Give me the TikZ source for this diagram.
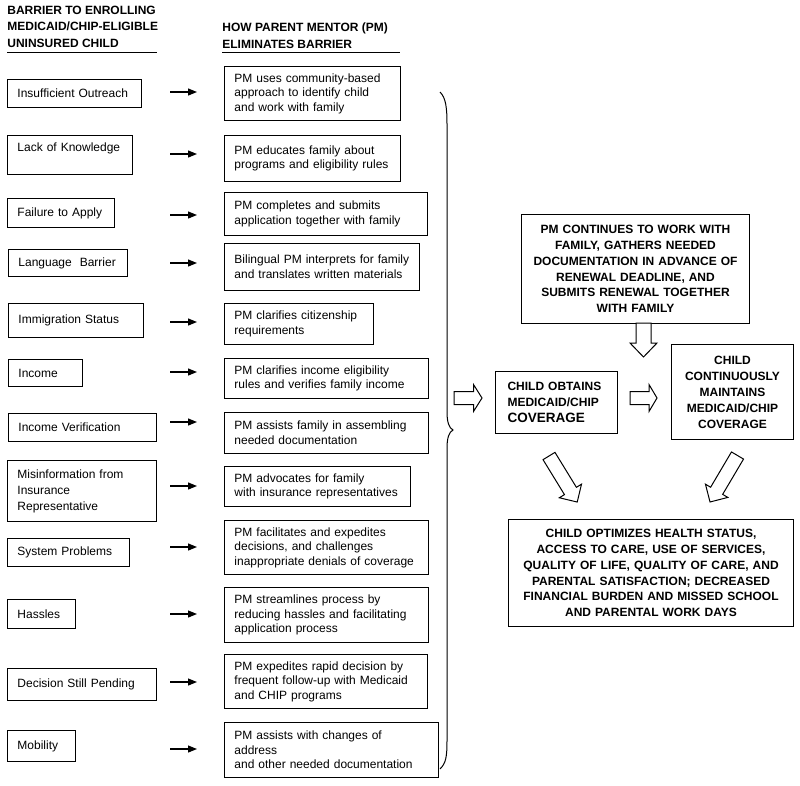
\documentclass[tikz,border=0pt]{standalone}
\usepackage{fontspec}
\setmainfont{Liberation Sans}
\usetikzlibrary{arrows.meta}

\tikzset{every picture/.style={line width=0.75pt}}
\tikzset{
  bar/.style={draw, line width=0.9pt, anchor=north west, align=left, inner xsep=10pt, inner ysep=0pt, font=\fontsize{12}{16}\selectfont},
  pm/.style={draw, line width=0.9pt, anchor=north west, align=left, inner xsep=10pt, inner ysep=0pt, font=\fontsize{12}{14.5}\selectfont},
  caps/.style={draw, line width=1pt, anchor=north west, align=center, inner xsep=8pt, inner ysep=0pt, font=\bfseries\fontsize{12}{15.8}\selectfont},
  headtext/.style={anchor=north west, align=left, inner sep=0pt, font=\bfseries\fontsize{12}{16.5}\selectfont},
  sarrow/.style={line width=1.2pt, -{Triangle[length=9pt,width=7pt]}},
  blk/.style={line width=1pt, fill=white},
}

\begin{document}
\begin{tikzpicture}[x=1pt,y=1pt,yscale=-1,xscale=1]
\useasboundingbox (0,0) rectangle (800,785);

% Headers
\node [headtext] (hbar) at (7,5.7) {BARRIER TO ENROLLING\\MEDICAID/CHIP-ELIGIBLE\\UNINSURED CHILD};
\node [headtext] (hpm) at (222,22.7) {HOW PARENT MENTOR (PM)\\ELIMINATES BARRIER};
\draw [line width=1pt] (7,52) -- (157,52);
\draw [line width=1pt] (222,52) -- (400,52);

% Barrier boxes
\node [bar, text width=114pt, minimum height=28pt] (bar1) at (7,79) {Insufficient Outreach};
\node [bar, text width=105pt, minimum height=39pt] (bar2) at (7,135) {Lack of Knowledge\\\mbox{}};
\node [bar, text width=87pt, minimum height=29pt] (bar3) at (7,198) {Failure to Apply};
\node [bar, text width=99pt, minimum height=27pt] (bar4) at (8,249) {Language\ \ Barrier};
\node [bar, text width=115pt, minimum height=34pt] (bar5) at (8,303) {Immigration Status};
\node [bar, text width=54pt, minimum height=27pt] (bar6) at (8,359) {Income};
\node [bar, text width=128pt, minimum height=28pt] (bar7) at (8,413) {Income Verification};
\node [bar, text width=129pt, minimum height=61pt] (bar8) at (7,460) {Misinformation from\\Insurance\\Representative};
\node [bar, text width=102pt, minimum height=28pt] (bar9) at (7,538) {System Problems};
\node [bar, text width=48pt, minimum height=29pt] (bar10) at (7,599) {Hassles};
\node [bar, text width=129pt, minimum height=32pt] (bar11) at (7,668) {Decision Still Pending};
\node [bar, text width=48pt, minimum height=31pt] (bar12) at (7,730) {Mobility};

% Parent mentor boxes
\node [pm, text width=156pt, minimum height=54pt] (pm1) at (224,66) {PM uses community-based\\approach to identify child\\and work with family};
\node [pm, text width=156pt, minimum height=46pt] (pm2) at (224,135) {PM educates family about\\programs and eligibility rules};
\node [pm, text width=183pt, minimum height=43pt] (pm3) at (224,192) {PM completes and submits\\application together with family};
\node [pm, text width=175pt, minimum height=47pt] (pm4) at (224,243) {Bilingual PM interprets for family\\and translates written materials};
\node [pm, text width=129pt, minimum height=41pt] (pm5) at (224,303) {PM clarifies citizenship\\requirements};
\node [pm, text width=184pt, minimum height=40pt] (pm6) at (224,358) {PM clarifies income eligibility\\rules and verifies family income};
\node [pm, text width=184pt, minimum height=41pt] (pm7) at (224,412) {PM assists family in assembling\\needed documentation};
\node [pm, text width=166pt, minimum height=40pt] (pm8) at (224,466) {PM advocates for family\\with insurance representatives};
\node [pm, text width=184pt, minimum height=54pt] (pm9) at (224,520) {PM facilitates and expedites\\decisions, and challenges\\inappropriate denials of coverage};
\node [pm, text width=184pt, minimum height=55pt] (pm10) at (224,587) {PM streamlines process by\\reducing hassles and facilitating\\application process};
\node [pm, text width=183pt, minimum height=54pt] (pm11) at (224,654) {PM expedites rapid decision by\\frequent follow-up with Medicaid\\and CHIP programs};
\node [pm, text width=194pt, minimum height=55pt] (pm12) at (224,722) {PM assists with changes of\\address\\and other needed documentation};

% Straight Lines
\coordinate (a1) at (170,92);  \coordinate (b1) at (197,92);  \draw [sarrow] (a1) -- (b1);
\coordinate (a2) at (170,154); \coordinate (b2) at (197,154); \draw [sarrow] (a2) -- (b2);
\coordinate (a3) at (170,215); \coordinate (b3) at (197,215); \draw [sarrow] (a3) -- (b3);
\coordinate (a4) at (170,263); \coordinate (b4) at (197,263); \draw [sarrow] (a4) -- (b4);
\coordinate (a5) at (170,322); \coordinate (b5) at (197,322); \draw [sarrow] (a5) -- (b5);
\coordinate (a6) at (170,372); \coordinate (b6) at (197,372); \draw [sarrow] (a6) -- (b6);
\coordinate (a7) at (170,422); \coordinate (b7) at (197,422); \draw [sarrow] (a7) -- (b7);
\coordinate (a8) at (170,486); \coordinate (b8) at (197,486); \draw [sarrow] (a8) -- (b8);
\coordinate (a9) at (170,547); \coordinate (b9) at (197,547); \draw [sarrow] (a9) -- (b9);
\coordinate (a10) at (170,614); \coordinate (b10) at (197,614); \draw [sarrow] (a10) -- (b10);
\coordinate (a11) at (170,682); \coordinate (b11) at (197,682); \draw [sarrow] (a11) -- (b11);
\coordinate (a12) at (170,749); \coordinate (b12) at (197,749); \draw [sarrow] (a12) -- (b12);

%Shape: Brace
\draw [line width=1pt] (440,92) .. controls (446,98) and (447,108) .. (447,125) -- (447,412) .. controls (447,422) and (449,428) .. (453,430) .. controls (449,432) and (447,438) .. (447,448) -- (447,740) .. controls (447,757) and (446,763) .. (440,769);

% Outcome boxes
\node [caps, text width=212pt, minimum height=109pt] (renew) at (521,214) {PM CONTINUES TO WORK WITH\\FAMILY, GATHERS NEEDED\\DOCUMENTATION IN ADVANCE OF\\RENEWAL DEADLINE, AND\\SUBMITS RENEWAL TOGETHER\\WITH FAMILY};
\node [caps, align=left, inner xsep=12pt, text width=98pt, minimum height=62pt] (obtain) at (495,371) {CHILD OBTAINS\\MEDICAID/CHIP\\{\fontsize{13.5}{16}\selectfont COVERAGE}};
\node [caps, text width=106pt, minimum height=95pt, font=\bfseries\fontsize{12}{16}\selectfont] (maintain) at (671,344) {CHILD\\CONTINUOUSLY\\MAINTAINS\\MEDICAID/CHIP\\COVERAGE};
\node [caps, text width=269pt, minimum height=107pt] (optimize) at (508,519) {CHILD OPTIMIZES HEALTH STATUS,\\ACCESS TO CARE, USE OF SERVICES,\\QUALITY OF LIFE, QUALITY OF CARE, AND\\PARENTAL SATISFACTION; DECREASED\\FINANCIAL BURDEN AND MISSED SCHOOL\\AND PARENTAL WORK DAYS};

%Shape: Right Arrow
\draw [blk] (454,391.5) -- (473.5,391.5) -- (473.5,384.5) -- (482,398) -- (473.5,411.5) -- (473.5,404.5) -- (454,404.5) -- cycle;
%Shape: Right Arrow
\draw [blk] (630,391.5) -- (649,391.5) -- (649,384.5) -- (657,398) -- (649,411.5) -- (649,404.5) -- (630,404.5) -- cycle;
%Shape: Down Arrow
\draw [blk] (636,323) -- (636,343) -- (630,343) -- (643.5,357) -- (657,343) -- (651,343) -- (651,323) -- cycle;
%Shape: Diagonal Arrows
\draw [blk, shift={(549,456)}, rotate=58.5] (0,-7) -- (41,-7) -- (41,-13) -- (54,0) -- (41,13) -- (41,7) -- (0,7) -- cycle;
\draw [blk, shift={(737.5,455.5)}, rotate=120.6] (0,-7) -- (41,-7) -- (41,-13) -- (54,0) -- (41,13) -- (41,7) -- (0,7) -- cycle;

\end{tikzpicture}
\end{document}
